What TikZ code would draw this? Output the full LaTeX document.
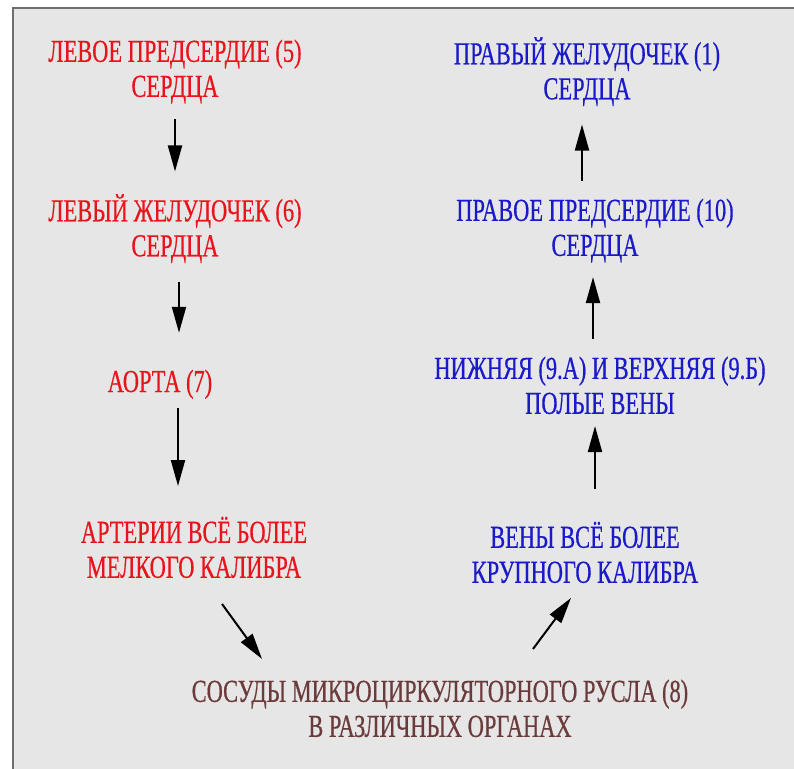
\documentclass[tikz,border=0pt]{standalone}
\usepackage{fontspec}
\setmainfont{Liberation Serif}[FakeStretch=0.7,FakeBold=0.5]
\usepackage{tikz}
\usetikzlibrary{arrows.meta,calc,positioning}
\usepackage{xcolor}
\definecolor{artred}{HTML}{E8141C}
\definecolor{veinblue}{HTML}{1A1AC8}
\definecolor{capbrown}{HTML}{6B3B3B}
\definecolor{panelgray}{HTML}{E6E6E6}
\definecolor{framegray}{HTML}{6E6E6E}

\begin{document}
\begin{tikzpicture}[x=1pt,y=-1pt,
  lbl/.style={inner sep=0pt,align=center,font=\fontsize{32}{35}\selectfont,
    execute at begin node=\strut,execute at end node=\strut},
  redlbl/.style={lbl,text=artred},
  bluelbl/.style={lbl,text=veinblue},
  flow/.style={-{Triangle[length=26pt,width=14pt]},line width=2pt}]
  \useasboundingbox (0,0) rectangle (794,768);
  % Panel
  \fill[panelgray] (13,8) rectangle (800,775);
  \draw[framegray,line width=2pt] (13,775) -- (13,8) -- (800,8);
  % Left column
  \node[redlbl] (LA) at (175,73.5) {ЛЕВОЕ ПРЕДСЕРДИЕ (5)\\СЕРДЦА};
  \node[redlbl] (LV) at (175,230.5) {ЛЕВЫЙ ЖЕЛУДОЧЕК (6)\\СЕРДЦА};
  \node[redlbl] (Ao) at (160,385) {АОРТА (7)};
  \node[redlbl] (Art) at (194,552.5) {АРТЕРИИ ВСЁ БОЛЕЕ\\МЕЛКОГО КАЛИБРА};
  % Right column
  \node[bluelbl] (RV) at (587,73.5) {ПРАВЫЙ ЖЕЛУДОЧЕК (1)\\СЕРДЦА};
  \node[bluelbl] (RA) at (595,232.5) {ПРАВОЕ ПРЕДСЕРДИЕ (10)\\СЕРДЦА};
  \node[bluelbl] (VC) at (600,390.5) {НИЖНЯЯ (9.А) И ВЕРХНЯЯ (9.Б)\\ПОЛЫЕ ВЕНЫ};
  \node[bluelbl] (Ven) at (585,557.5) {ВЕНЫ ВСЁ БОЛЕЕ\\КРУПНОГО КАЛИБРА};
  % Bottom
  \node[lbl,text=capbrown] (Mic) at (440,713.5) {СОСУДЫ МИКРОЦИРКУЛЯТОРНОГО РУСЛА (8)\\В РАЗЛИЧНЫХ ОРГАНАХ};
  % Arrows down
  \draw[flow,shorten <=11.5pt,shorten >=22.5pt] (LA.south) -- (LA.south |- LV.north);
  \draw[flow,shorten <=14.5pt,shorten >=34.5pt] ([xshift=4]LV.south) -- ([xshift=4]LV.south |- Ao.north);
  \draw[flow,shorten <=5.5pt,shorten >=30.5pt] ([xshift=18]Ao.south) -- ([xshift=18]Ao.south |- Art.north);
  \draw[flow] ([xshift=28,yshift=-15.5]Art.south) -- ([xshift=-178,yshift=20.5]Mic.north);
  % Arrows up
  \draw[flow] ([xshift=93,yshift=30.5]Mic.north) -- ([xshift=-14,yshift=-4.5]Ven.south);
  \draw[flow,shorten <=32.5pt,shorten >=1.5pt] ([xshift=10]Ven.north) -- ([xshift=10]Ven.north |- VC.south);
  \draw[flow,shorten <=17.5pt,shorten >=10.5pt] ([xshift=-7]VC.north) -- ([xshift=-7]VC.north |- RA.south);
  \draw[flow,shorten <=17.5pt,shorten >=14.5pt] ([xshift=-13]RA.north) -- ([xshift=-13]RA.north |- RV.south);
\end{tikzpicture}
\end{document}
